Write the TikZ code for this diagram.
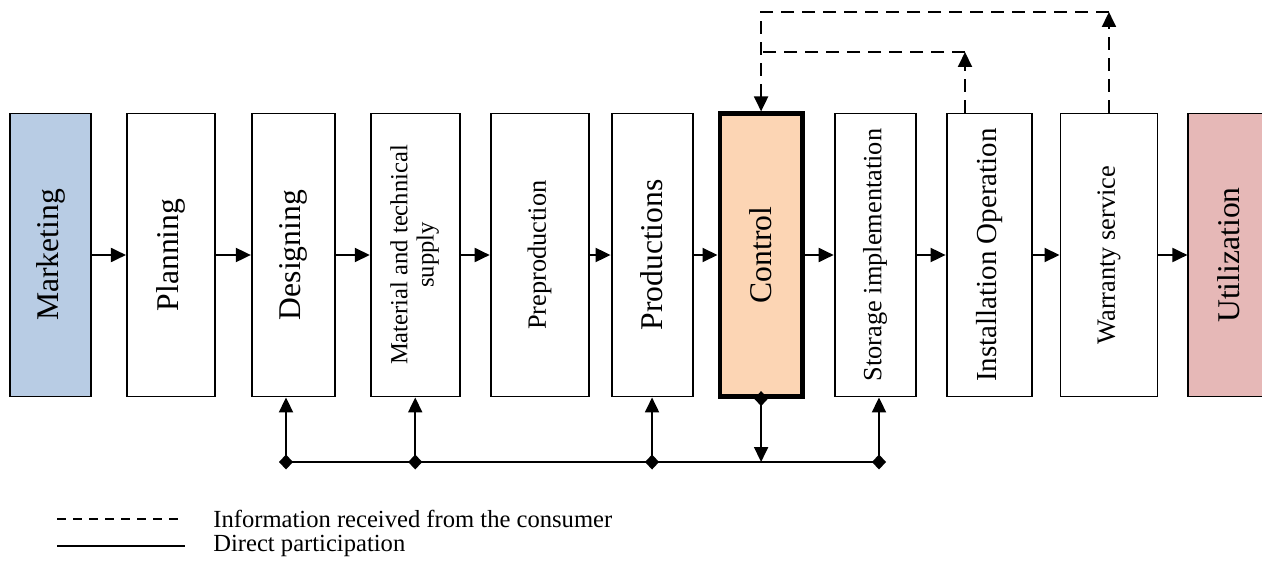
\documentclass[tikz,border=0pt]{standalone}
\usepackage{fontspec}
\setmainfont{Liberation Serif}
\usetikzlibrary{arrows.meta,positioning,calc}
\definecolor{mktblue}{RGB}{184,204,228}
\definecolor{ctrlorange}{RGB}{252,213,180}
\definecolor{utilred}{RGB}{230,184,183}

\begin{document}
\begin{tikzpicture}[
    x=0.02cm, y=-0.02cm,
    stage/.style={rectangle, draw, line width=1.1pt, minimum height=5.66cm, inner sep=0pt, font=\fontsize{18}{21}\selectfont},
    substage/.style={stage, font=\fontsize{15}{18}\selectfont},
    flow/.style={-{Triangle[length=3mm,width=2.8mm]}, line width=1.1pt},
    part/.style={{Diamond[length=3mm,width=2.8mm]}-{Triangle[length=3mm,width=2.8mm]}, line width=1.1pt, shorten <=-1.5mm},
    info/.style={line width=1.1pt, dash pattern=on 2.6mm off 1.6mm},
    legend/.style={anchor=west, inner sep=0pt, font=\fontsize{14}{16}\selectfont}
]

\useasboundingbox (0,0) rectangle (1262,571);

% Stages of the life cycle
\node[stage, fill=mktblue, minimum width=1.62cm] (marketing) at (50.5,255) {\rotatebox{90}{Marketing}};
\node[stage, minimum width=1.76cm, right=0.68cm of marketing] (planning) {\rotatebox{90}{Planning}};
\node[stage, minimum width=1.66cm, right=0.7cm of planning] (designing) {\rotatebox{90}{Designing}};
\node[substage, font=\fontsize{14}{15}\selectfont, minimum width=1.78cm, right=0.68cm of designing] (supply) {\rotatebox{90}{\begin{tabular}{@{}c@{}}Material and technical\\supply\end{tabular}}};
\node[substage, minimum width=1.96cm, right=0.58cm of supply] (preprod) {\rotatebox{90}{Preproduction}};
\node[stage, minimum width=1.62cm, right=0.42cm of preprod] (production) {\rotatebox{90}{Productions}};
\node[stage, fill=ctrlorange, line width=2.4pt, minimum width=1.66cm, right=0.48cm of production] (control) {\rotatebox{90}{Control}};
\node[substage, minimum width=1.62cm, right=0.58cm of control] (storage) {\rotatebox{90}{Storage implementation}};
\node[substage, font=\fontsize{16.5}{19}\selectfont, minimum width=1.7cm, right=0.58cm of storage] (install) {\rotatebox{90}{Installation Operation}};
\node[substage, minimum width=1.94cm, right=0.54cm of install] (warranty) {\rotatebox{90}{Warranty service}};
\node[stage, fill=utilred, minimum width=1.62cm, right=0.58cm of warranty] (utilization) {\rotatebox{90}{Utilization}};

% Main flow
\draw[flow] (marketing) -- (planning);
\draw[flow] (planning) -- (designing);
\draw[flow] (designing) -- (supply);
\draw[flow] (supply) -- (preprod);
\draw[flow] (preprod) -- (production);
\draw[flow] (production) -- (control);
\draw[flow] (control) -- (storage);
\draw[flow] (storage) -- (install);
\draw[flow] (install) -- (warranty);
\draw[flow] (warranty) -- (utilization);

% Direct participation of control
\coordinate (bus) at (0,462);
\coordinate (busL) at (286,462);
\coordinate (busR) at (879,462);
\draw[line width=1.1pt] (busL) -- (busR);
\draw[part] (busL) -- (busL |- designing.south);
\draw[part] (supply.south |- bus) -- (supply.south);
\draw[part] (production.south |- bus) -- (production.south);
\draw[part] (busR) -- (busR |- storage.south);
\draw[part] (control.south) -- (control.south |- bus);

% Information from the consumer
\coordinate (inner) at (965,52);
\coordinate (outer) at (0,12);
\draw[info, -{Triangle[length=3mm,width=2.8mm]}] (inner |- install.north) -- (inner);
\draw[info] (inner) -- (inner -| control.north);
\draw[info, -{Triangle[length=3mm,width=2.8mm]}] (warranty.north) -- (warranty.north |- outer);
\draw[info, -{Triangle[length=3mm,width=2.8mm]}] (warranty.north |- outer) -| (control.north);

% Legend
\node[legend] (infolabel) at (213,519) {Information received from the consumer};
\node[legend] (directlabel) at (213,546) {Direct participation};
\draw[line width=1pt, dash pattern=on 1.8mm off 1.4mm] ([xshift=-3.12cm]infolabel.west) -- ([xshift=-0.58cm]infolabel.west);
\draw[line width=1pt] ([xshift=-3.12cm]directlabel.west) -- ([xshift=-0.56cm]directlabel.west);

\end{tikzpicture}
\end{document}
